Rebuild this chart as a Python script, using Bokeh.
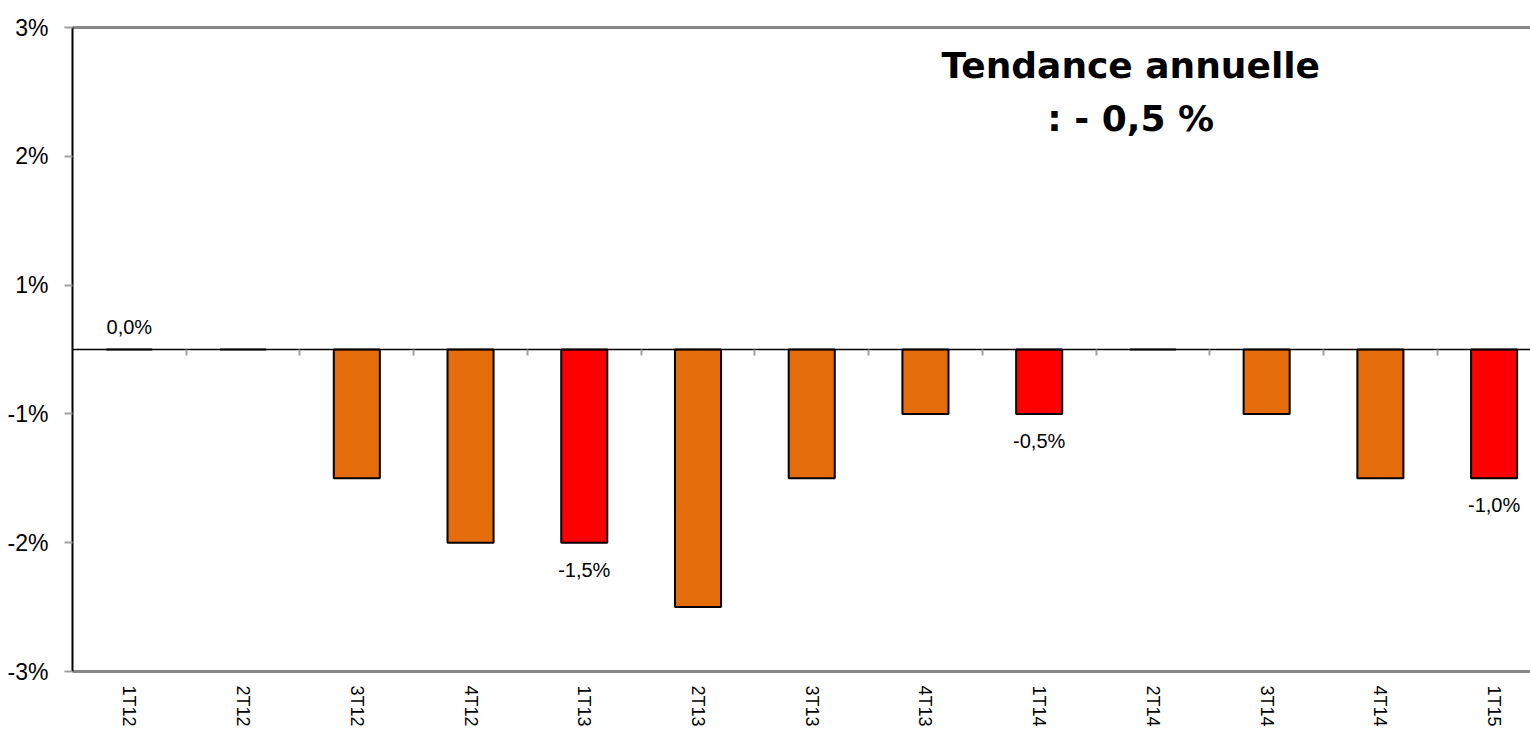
import math
from bokeh.plotting import figure
from bokeh.models import (Range1d, LinearAxis, FixedTicker, ColumnDataSource, Label)
from bokeh.core.properties import value
from bokeh.embed import file_html
from bokeh.resources import INLINE

categories = ["1T12", "2T12", "3T12", "4T12", "1T13", "2T13", "3T13", "4T13", "1T14", "2T14", "3T14", "4T14", "1T15"]
values = [0.0, 0.0, -1.0, -1.5, -1.5, -2.0, -1.0, -0.5, -0.5, 0.0, -0.5, -1.0, -1.0]
highlight = [False, False, False, False, True, False, False, False, True, False, False, False, True]
data_labels = ["0,0%", "", "", "", "-1,5%", "", "", "", "-0,5%", "", "", "", "-1,0%"]
y_ticks = [-2.5, -1.5, -0.5, 0.5, 1.5, 2.5]
y_tick_labels = ["-3%", "-2%", "-1%", "1%", "2%", "3%"]
title_lines = ["Tendance annuelle", ": - 0,5 %"]

ORANGE = "#E46C0A"
RED = "#FF0000"
REG = "Liberation Sans"
BOLD = "DejaVu Sans"

n = len(categories)
xc = [i + 0.5 for i in range(n)]
colors = [RED if h else ORANGE for h in highlight]
src = ColumnDataSource(dict(x=xc, top=values, color=colors))

p = figure(width=1530, height=734, output_backend="svg", toolbar_location=None,
           x_range=Range1d(0, n - 0.18), y_range=Range1d(-2.5, 2.5),
           min_border_left=72, min_border_right=0, min_border_top=27, min_border_bottom=63,
           x_axis_location=None, y_axis_location=None)
p.grid.visible = False
p.outline_line_color = None
p.background_fill_color = "white"
p.border_fill_color = "white"

p.vbar(x="x", top="top", bottom=0, width=0.405, source=src, fill_color="color",
       line_color="black", line_width=2)

# zero line with category-boundary ticks (minor ticks only, no labels)
zax = LinearAxis(fixed_location=0,
                 ticker=FixedTicker(ticks=[], minor_ticks=list(range(1, n))))
zax.axis_line_color = "black"
zax.axis_line_width = 1.5
zax.major_tick_line_color = None
zax.minor_tick_line_color = "#A0A0A0"
zax.minor_tick_line_width = 2
zax.minor_tick_out = 6
zax.minor_tick_in = 0
p.add_layout(zax, "below")

# bottom category axis
xax = LinearAxis(ticker=FixedTicker(ticks=xc),
                 major_label_overrides={x: c for x, c in zip(xc, categories)})
xax.axis_line_color = "#888888"
xax.axis_line_width = 3
xax.major_tick_line_color = None
xax.minor_tick_line_color = None
xax.major_tick_out = 0
xax.major_tick_in = 0
xax.major_label_orientation = -math.pi / 2
xax.major_label_text_font = REG
xax.major_label_text_font_size = "18px"
xax.major_label_text_color = "black"
xax.major_label_standoff = 14
p.add_layout(xax, "below")

# left axis
yax = LinearAxis(ticker=FixedTicker(ticks=y_ticks),
                 major_label_overrides={t: l for t, l in zip(y_ticks, y_tick_labels)})
yax.axis_line_color = "black"
yax.axis_line_width = 2
yax.major_tick_line_color = "#A0A0A0"
yax.major_tick_line_width = 2
yax.major_tick_out = 8
yax.major_tick_in = 0
yax.minor_tick_line_color = None
yax.major_label_text_font = REG
yax.major_label_text_font_size = "23px"
yax.major_label_text_color = "black"
yax.major_label_standoff = 16
p.add_layout(yax, "left")

# top border
tax = LinearAxis(ticker=FixedTicker(ticks=[]))
tax.axis_line_color = "#888888"
tax.axis_line_width = 3
tax.major_tick_line_color = None
tax.minor_tick_line_color = None
p.add_layout(tax, "above")

# data labels
lx, ly, lt, lo = [], [], [], []
for x, v, t in zip(xc, values, data_labels):
    if t:
        lx.append(x); ly.append(v); lt.append(t)
        lo.append(-23 if v >= 0 else 27)
lsrc = ColumnDataSource(dict(x=lx, y=ly, text=lt, yo=lo))
p.text(x="x", y="y", text="text", y_offset="yo", source=lsrc, text_align="center",
       text_baseline="middle", text_font=value(REG), text_font_size="20px", text_color="black")

for i, line in enumerate(title_lines):
    p.add_layout(Label(x=9.305, y=2.205 - 0.415 * i, text=line,
                       text_align="center", text_baseline="middle", text_font=BOLD,
                       text_font_style="bold", text_font_size="36px", text_color="black"))

open("out.html", "w").write(file_html(p, INLINE))
